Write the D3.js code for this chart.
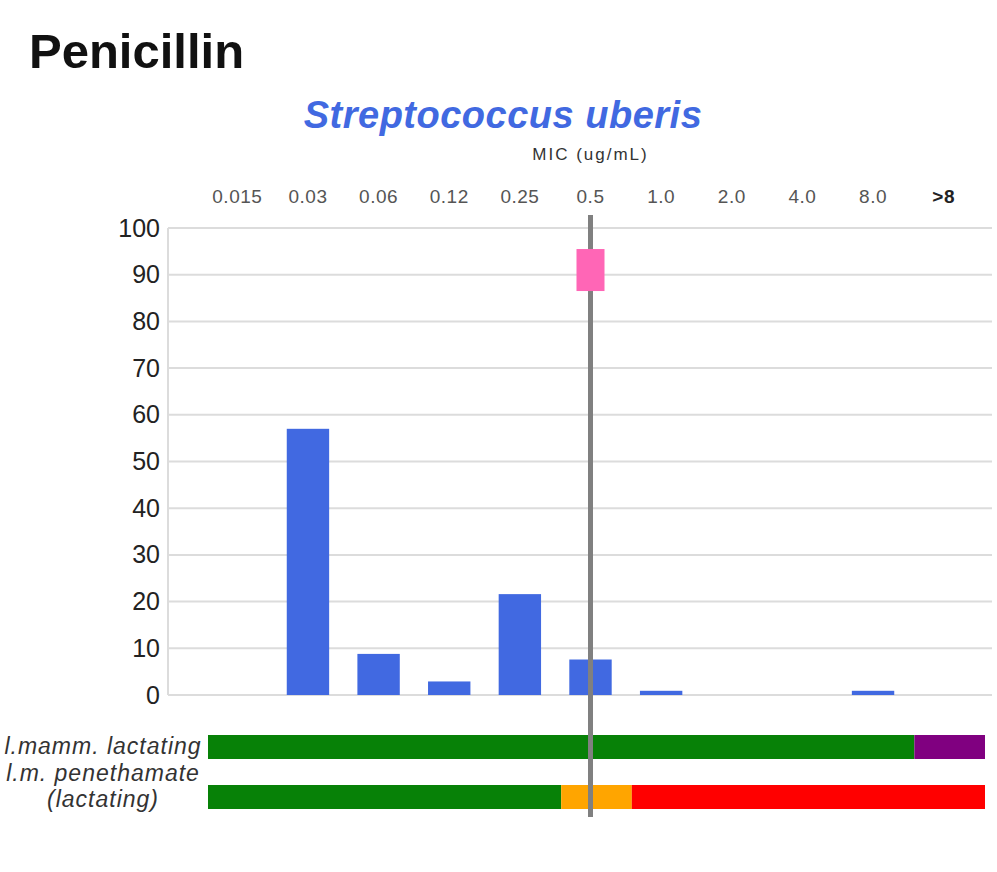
<!DOCTYPE html>
<html>
<head>
<meta charset="utf-8">
<script src="https://cdn.jsdelivr.net/npm/d3@7"></script>
<style>
    body { margin: 0; background: #fff; }
    text { font-family: "Liberation Sans", Arial, sans-serif; }
</style>
</head>
<body>
<div id="chart"></div>
<script>
// MIC categories (ug/mL)
const categories = ["0.015", "0.03", "0.06", "0.12", "0.25", "0.5", "1.0", "2.0", "4.0", "8.0", ">8"];
// percentage of isolates per category
const percentValues = [0, 57, 8.8, 2.9, 21.6, 7.6, 0.9, 0, 0, 0.9, 0];
const yTicks = [0, 10, 20, 30, 40, 50, 60, 70, 80, 90, 100];

// clinical breakpoint and marker
const breakpoint = "0.5";
const markerValue = 91;

// interpretation per category for each treatment row
const rowLabels = [["l.mamm. lactating"], ["l.m. penethamate", "(lactating)"]];
const mammInterp = ["S", "S", "S", "S", "S", "S", "S", "S", "S", "S", "X"];
const penethInterp = ["S", "S", "S", "S", "S", "I", "R", "R", "R", "R", "R"];

const interpColors = { S: "#078107", I: "#ffa500", R: "#ff0000", X: "#800080" };

// group consecutive categories with the same interpretation
function runs(interp) {
    var out = [];
    interp.forEach((code, i) => {
        var last = out[out.length - 1];
        if (last && last.code == code) last.end = categories[i];
        else out.push({ code: code, start: categories[i], end: categories[i] });
    });
    return out;
}

function draw_chart() {
    var svg = d3.select("#chart").append("svg")
        .attr("width", 997)
        .attr("height", 872);

    // scales
    var x = d3.scaleBand()
        .domain(categories)
        .range([202, 979])
        .paddingInner(0.4)
        .paddingOuter(0.2);

    var xRow = d3.scaleBand()
        .domain(categories)
        .range([208, 985]);

    var y = d3.scaleLinear()
        .domain([0, 100])
        .range([695, 228]);

    // headings
    svg.append("text")
        .attr("x", 29)
        .attr("y", 68)
        .attr("font-size", 49)
        .attr("font-weight", "bold")
        .attr("fill", "#111")
        .text("Penicillin");

    svg.append("text")
        .attr("x", 503)
        .attr("y", 128)
        .attr("text-anchor", "middle")
        .attr("font-size", 38)
        .attr("font-weight", "bold")
        .attr("font-style", "italic")
        .attr("letter-spacing", 0.5)
        .attr("fill", "#4169e1")
        .text("Streptococcus uberis");

    svg.append("text")
        .attr("x", x("0.5") + x.bandwidth() / 2)
        .attr("y", 160)
        .attr("text-anchor", "middle")
        .attr("font-size", 17)
        .attr("letter-spacing", 2)
        .attr("fill", "#333")
        .text("MIC (ug/mL)");

    // grid
    svg.append("g")
        .attr("class", "grid")
        .selectAll("line")
        .data(yTicks)
        .enter().append("line")
        .attr("x1", 168)
        .attr("x2", 992)
        .attr("y1", d => y(d))
        .attr("y2", d => y(d))
        .attr("stroke", "#dcdcdc")
        .attr("stroke-width", 2);

    svg.append("line")
        .attr("x1", 168).attr("x2", 168)
        .attr("y1", y(100)).attr("y2", y(0))
        .attr("stroke", "#dcdcdc")
        .attr("stroke-width", 2);

    // y axis labels
    var yAxis = svg.append("g")
        .attr("transform", "translate(168,0)")
        .call(d3.axisLeft(y).tickValues(yTicks).tickSize(0).tickPadding(8));
    yAxis.select(".domain").remove();
    yAxis.selectAll("text")
        .attr("font-size", 25)
        .attr("fill", "#222")
        .style("font-family", "'Liberation Sans', Arial, sans-serif");

    // top category axis
    var xAxis = svg.append("g")
        .attr("transform", "translate(0,203)")
        .call(d3.axisTop(x).tickSize(0).tickPadding(0));
    xAxis.select(".domain").remove();
    xAxis.selectAll("text")
        .attr("font-size", 19)
        .attr("letter-spacing", 0.5)
        .attr("fill", d => d == ">8" ? "#222" : "#555")
        .attr("font-weight", d => d == ">8" ? "bold" : "normal")
        .style("font-family", "'Liberation Sans', Arial, sans-serif");

    // bars
    svg.append("g")
        .selectAll("rect")
        .data(categories.map((c, i) => ({ cat: c, value: percentValues[i] })).filter(d => d.value > 0))
        .enter().append("rect")
        .attr("x", d => x(d.cat))
        .attr("width", x.bandwidth())
        .attr("y", d => y(d.value))
        .attr("height", d => y(0) - y(d.value))
        .attr("fill", "#4169e1");

    // interpretation rows
    var rows = [
        { interp: mammInterp, top: 735, labels: rowLabels[0], baselines: [754] },
        { interp: penethInterp, top: 785, labels: rowLabels[1], baselines: [781, 807] }
    ];

    rows.forEach(row => {
        svg.append("g")
            .selectAll("rect")
            .data(runs(row.interp))
            .enter().append("rect")
            .attr("x", d => xRow(d.start))
            .attr("width", d => xRow(d.end) + xRow.bandwidth() - xRow(d.start))
            .attr("y", row.top)
            .attr("height", 24)
            .attr("fill", d => interpColors[d.code]);

        svg.append("g")
            .selectAll("text")
            .data(row.labels)
            .enter().append("text")
            .attr("x", 103)
            .attr("y", (d, i) => row.baselines[i])
            .attr("text-anchor", "middle")
            .attr("font-size", 23)
            .attr("letter-spacing", 1)
            .attr("font-style", "italic")
            .attr("fill", "#333")
            .text(d => d);
    });

    // breakpoint line
    var bx = x(breakpoint) + x.bandwidth() / 2;
    svg.append("line")
        .attr("x1", bx).attr("x2", bx)
        .attr("y1", 215).attr("y2", 817)
        .attr("stroke", "#808080")
        .attr("stroke-width", 5);

    // marker
    svg.append("rect")
        .attr("x", bx - 14)
        .attr("y", y(markerValue) - 21)
        .attr("width", 28)
        .attr("height", 42)
        .attr("fill", "#ff66b6");
}

draw_chart();
</script>
</body>
</html>
